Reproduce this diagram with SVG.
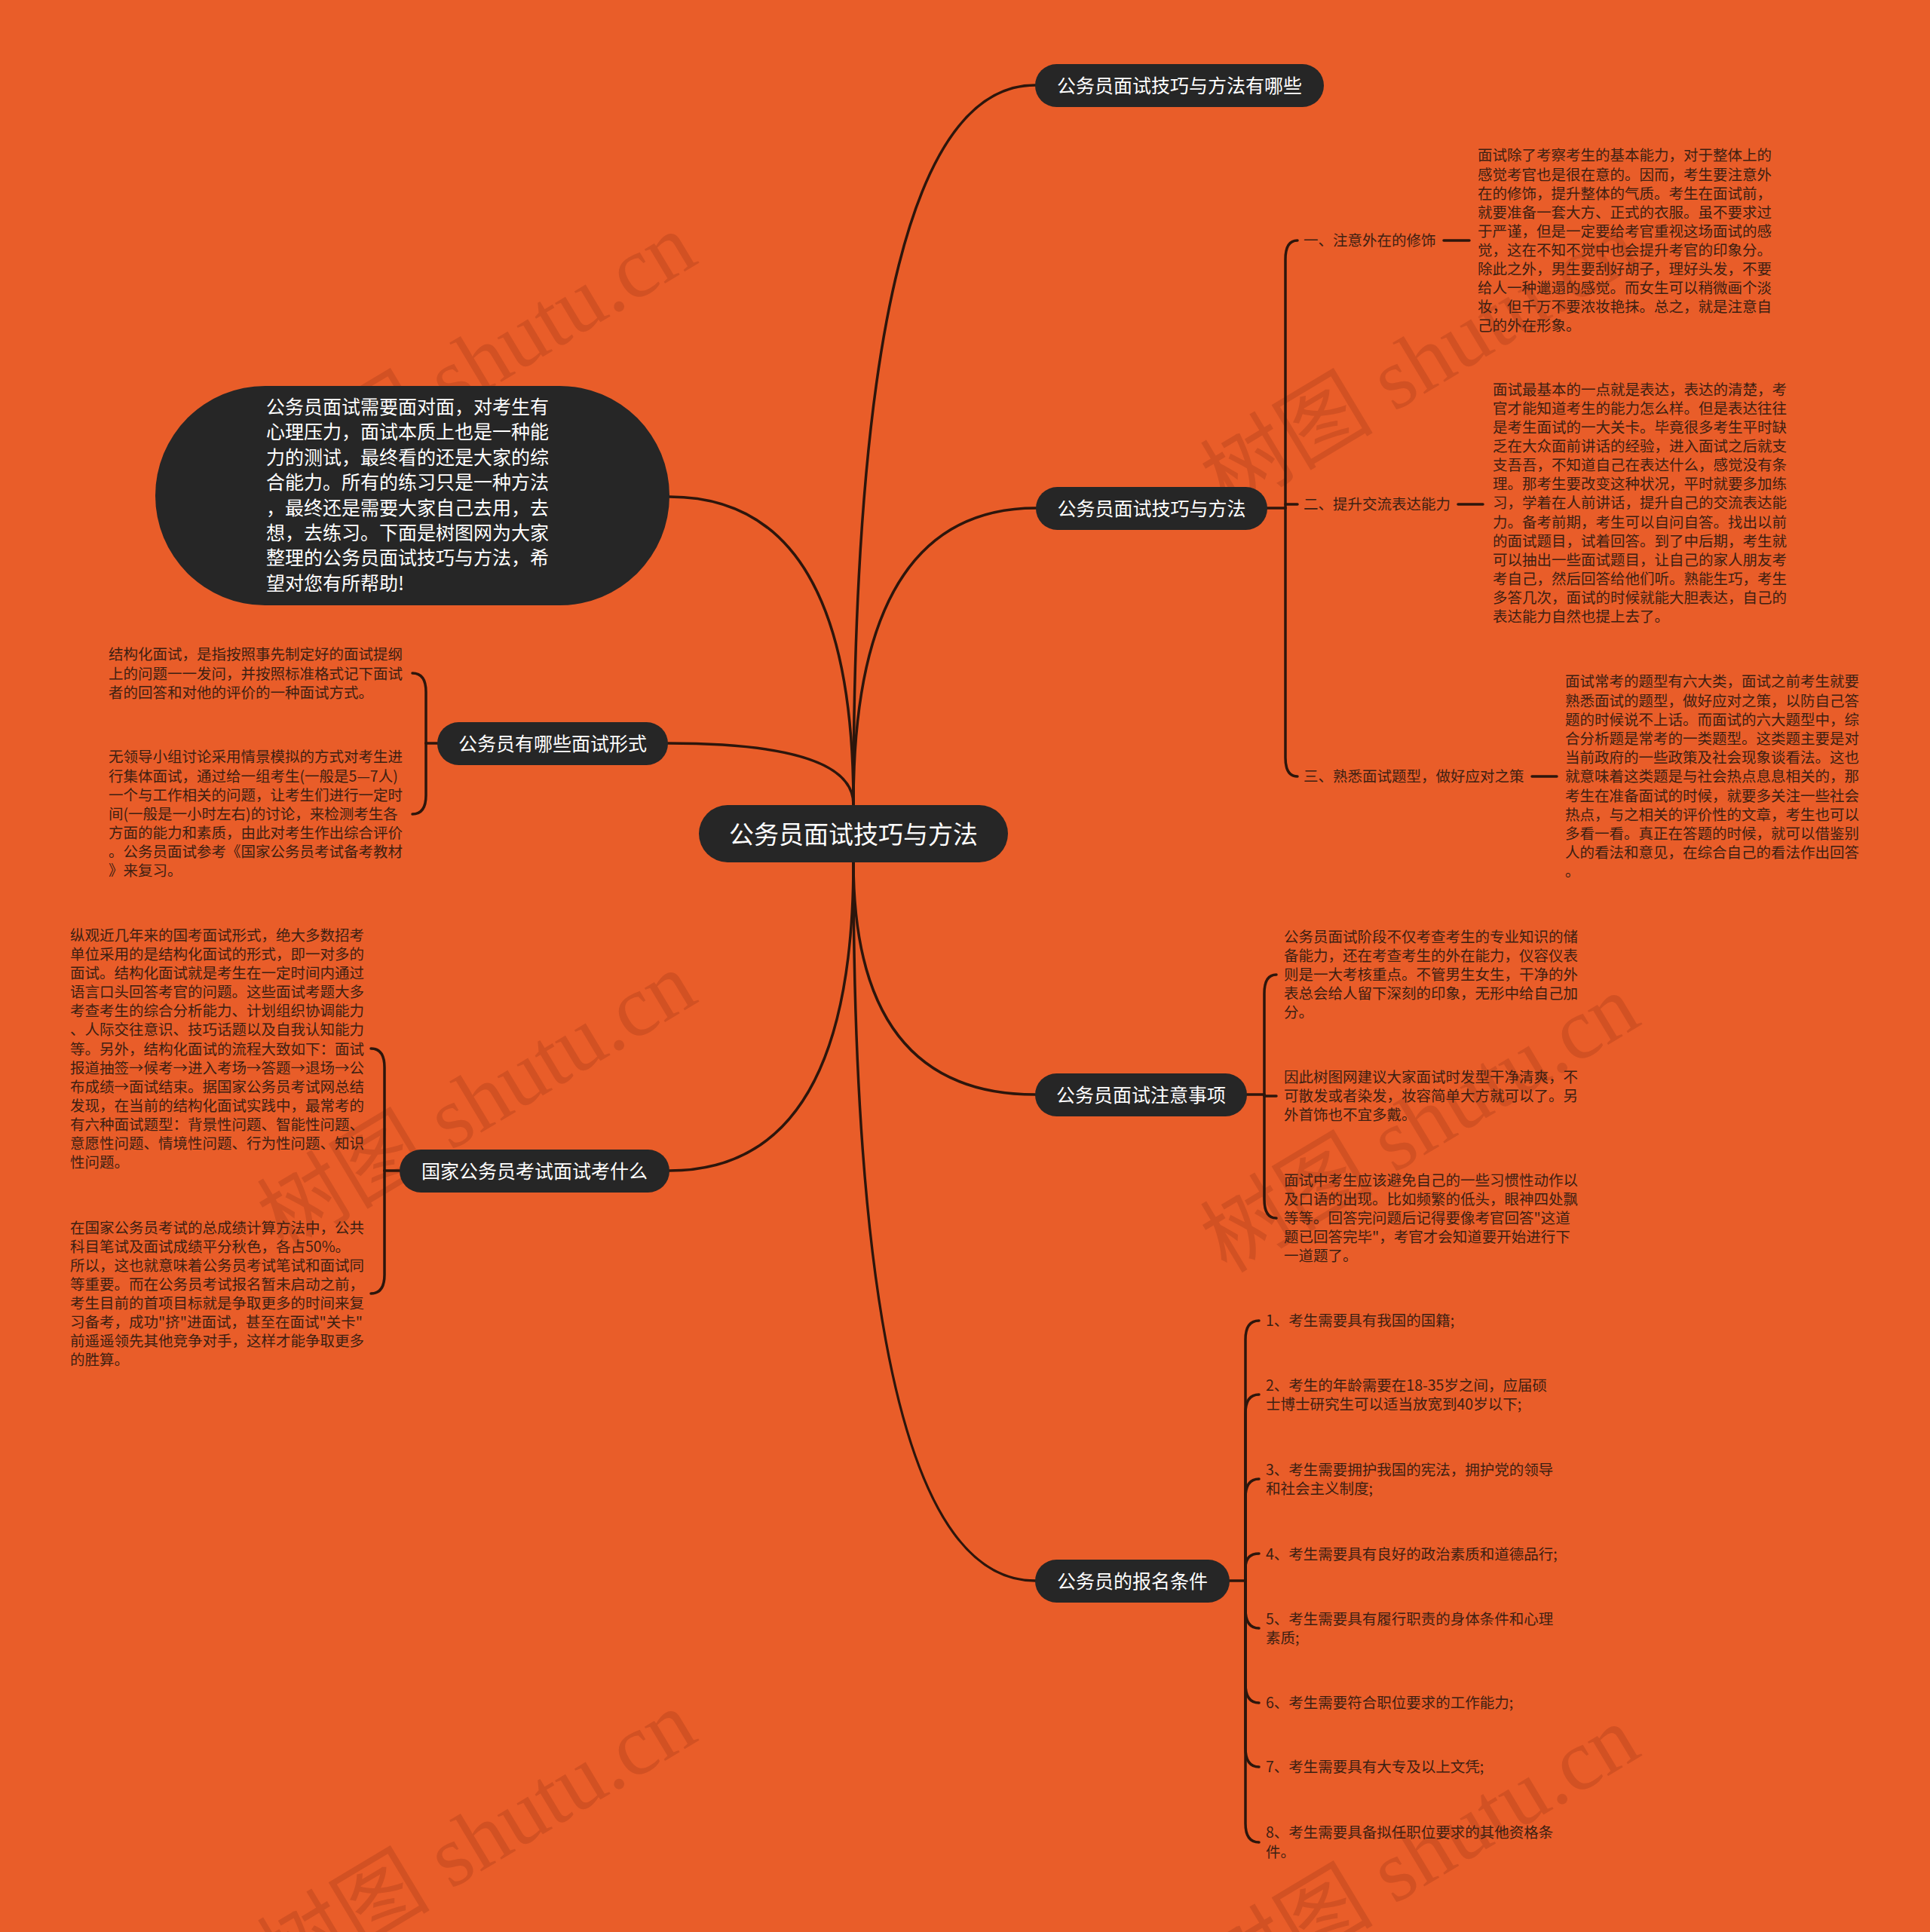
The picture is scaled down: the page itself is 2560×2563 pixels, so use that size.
<svg xmlns="http://www.w3.org/2000/svg" width="2560" height="2563" viewBox="0 0 2560 2563">
<style>
.nodebox{fill:#262626}
.nt{font-family:"Noto Sans CJK SC","Noto Sans",sans-serif;fill:#ffffff;text-anchor:middle}
.it{font-family:"Noto Sans CJK SC","Noto Sans",sans-serif;fill:#ffffff;font-size:25px}
.leaf{font-family:"Noto Sans CJK SC","Noto Sans",sans-serif;font-size:19.5px;fill:#3d2012}
.conn path{fill:none;stroke:#2d160c;stroke-width:3.5;stroke-linecap:round}
.wm{font-family:"Liberation Serif","Noto Sans CJK SC",serif;font-size:115px;fill:#b8431c;opacity:0.45}
</style>
<rect x="0" y="0" width="2560" height="2563" fill="#E95D29"/>
<g id="watermark">
<text class="wm" x="376" y="680" transform="rotate(-31 376 680)">树图 shutu.cn</text>
<text class="wm" x="1627" y="680" transform="rotate(-31 1627 680)">树图 shutu.cn</text>
<text class="wm" x="376" y="1660" transform="rotate(-31 376 1660)">树图 shutu.cn</text>
<text class="wm" x="1627" y="1690" transform="rotate(-31 1627 1690)">树图 shutu.cn</text>
<text class="wm" x="376" y="2640" transform="rotate(-31 376 2640)">树图 shutu.cn</text>
<text class="wm" x="1627" y="2660" transform="rotate(-31 1627 2660)">树图 shutu.cn</text>
</g>
<g id="connectors" class="conn">
<path d="M1132,1067 Q1132,113 1373,113"/>
<path d="M1132,1067 Q1132,674 1374,674"/>
<path d="M1132,1067 Q1132,659 888,659"/>
<path d="M1132,1067 Q1132,986 886,986"/>
<path d="M1132,1143 Q1132,1553 888,1553"/>
<path d="M1132,1143 Q1132,1452 1373,1452"/>
<path d="M1132,1143 Q1132,2097 1373,2097"/>
<!-- techniques bracket -->
<path d="M1680,674 H1705"/>
<path d="M1705,674 V344 Q1705,319 1721,319"/>
<path d="M1705,674 V1005 Q1705,1030 1721,1030"/>
<path d="M1705,669 H1721"/>
<path d="M1915,319 H1949"/>
<path d="M1934,669 H1967"/>
<path d="M2032,1030 H2065"/>
<!-- notes bracket -->
<path d="M1654,1452 H1677"/>
<path d="M1677,1452 V1318 Q1677,1293 1693,1293"/>
<path d="M1677,1452 V1591 Q1677,1616 1693,1616"/>
<path d="M1677,1454 H1693"/>
<!-- conditions bracket -->
<path d="M1631,2097 H1652"/>
<path d="M1652,2097 V1777 Q1652,1752 1670,1752"/>
<path d="M1652,2097 V1875 Q1652,1850 1670,1850"/>
<path d="M1652,2097 V1987 Q1652,1962 1670,1962"/>
<path d="M1652,2097 V2080 Q1652,2061 1670,2061"/>
<path d="M1652,2097 V2135 Q1652,2160 1670,2160"/>
<path d="M1652,2097 V2234 Q1652,2259 1670,2259"/>
<path d="M1652,2097 V2319 Q1652,2344 1670,2344"/>
<path d="M1652,2097 V2419 Q1652,2444 1670,2444"/>
<!-- forms bracket -->
<path d="M580,986 H565"/>
<path d="M565,986 V918 Q565,893 547,893"/>
<path d="M565,986 V1055 Q565,1080 547,1080"/>
<!-- exam bracket -->
<path d="M530,1553 H510"/>
<path d="M510,1553 V1416 Q510,1391 492,1391"/>
<path d="M510,1553 V1691 Q510,1716 492,1716"/>
</g>
<g id="center">
<rect class="nodebox" x="927" y="1068" width="410" height="76" rx="38"/>
<text class="nt" x="1132" y="1118.5" font-size="33">公务员面试技巧与方法</text>
</g>
<g id="intro">
<rect class="nodebox" x="206" y="512" width="682" height="291" rx="145.5"/>
<text class="it">
<tspan x="353" y="549">公务员面试需要面对面，对考生有</tspan>
<tspan x="353" y="582.4">心理压力，面试本质上也是一种能</tspan>
<tspan x="353" y="615.8">力的测试，最终看的还是大家的综</tspan>
<tspan x="353" y="649.2">合能力。所有的练习只是一种方法</tspan>
<tspan x="353" y="682.6">，最终还是需要大家自己去用，去</tspan>
<tspan x="353" y="716">想，去练习。下面是树图网为大家</tspan>
<tspan x="353" y="749.4">整理的公务员面试技巧与方法，希</tspan>
<tspan x="353" y="782.8">望对您有所帮助!</tspan>
</text>
</g>
<g id="n-which">
<rect class="nodebox" x="1373" y="85" width="383" height="57" rx="28.5"/>
<text class="nt" x="1564.5" y="123" font-size="25">公务员面试技巧与方法有哪些</text>
</g>
<g id="n-tech">
<rect class="nodebox" x="1374" y="646" width="307" height="57" rx="28.5"/>
<text class="nt" x="1527.5" y="684" font-size="25">公务员面试技巧与方法</text>
</g>
<g id="n-notes">
<rect class="nodebox" x="1373" y="1424" width="281" height="57" rx="28.5"/>
<text class="nt" x="1513.5" y="1462" font-size="25">公务员面试注意事项</text>
</g>
<g id="n-cond">
<rect class="nodebox" x="1373" y="2069" width="258" height="57" rx="28.5"/>
<text class="nt" x="1502" y="2107" font-size="25">公务员的报名条件</text>
</g>
<g id="n-forms">
<rect class="nodebox" x="580" y="958" width="306" height="57" rx="28.5"/>
<text class="nt" x="733" y="996" font-size="25">公务员有哪些面试形式</text>
</g>
<g id="n-exam">
<rect class="nodebox" x="530" y="1525" width="358" height="57" rx="28.5"/>
<text class="nt" x="709" y="1563" font-size="25">国家公务员考试面试考什么</text>
</g>
<g id="t1-label"><text class="leaf" x="1729" y="326.4">一、注意外在的修饰</text></g>
<g id="t2-label"><text class="leaf" x="1729" y="676.4">二、提升交流表达能力</text></g>
<g id="t3-label"><text class="leaf" x="1729" y="1037.4">三、熟悉面试题型，做好应对之策</text></g>
<g id="t1-leaf">
<text class="leaf">
<tspan x="1960" y="213.4">面试除了考察考生的基本能力，对于整体上的</tspan>
<tspan x="1960" y="238.5">感觉考官也是很在意的。因而，考生要注意外</tspan>
<tspan x="1960" y="263.5">在的修饰，提升整体的气质。考生在面试前，</tspan>
<tspan x="1960" y="288.6">就要准备一套大方、正式的衣服。虽不要求过</tspan>
<tspan x="1960" y="313.7">于严谨，但是一定要给考官重视这场面试的感</tspan>
<tspan x="1960" y="338.8">觉，这在不知不觉中也会提升考官的印象分。</tspan>
<tspan x="1960" y="363.8">除此之外，男生要刮好胡子，理好头发，不要</tspan>
<tspan x="1960" y="388.9">给人一种邋遢的感觉。而女生可以稍微画个淡</tspan>
<tspan x="1960" y="414">妆，但千万不要浓妆艳抹。总之，就是注意自</tspan>
<tspan x="1960" y="439">己的外在形象。</tspan>
</text>
</g>
<g id="t2-leaf">
<text class="leaf">
<tspan x="1980" y="524">面试最基本的一点就是表达，表达的清楚，考</tspan>
<tspan x="1980" y="549.1">官才能知道考生的能力怎么样。但是表达往往</tspan>
<tspan x="1980" y="574.1">是考生面试的一大关卡。毕竟很多考生平时缺</tspan>
<tspan x="1980" y="599.2">乏在大众面前讲话的经验，进入面试之后就支</tspan>
<tspan x="1980" y="624.3">支吾吾，不知道自己在表达什么，感觉没有条</tspan>
<tspan x="1980" y="649.4">理。那考生要改变这种状况，平时就要多加练</tspan>
<tspan x="1980" y="674.4">习，学着在人前讲话，提升自己的交流表达能</tspan>
<tspan x="1980" y="699.5">力。备考前期，考生可以自问自答。找出以前</tspan>
<tspan x="1980" y="724.6">的面试题目，试着回答。到了中后期，考生就</tspan>
<tspan x="1980" y="749.6">可以抽出一些面试题目，让自己的家人朋友考</tspan>
<tspan x="1980" y="774.7">考自己，然后回答给他们听。熟能生巧，考生</tspan>
<tspan x="1980" y="799.8">多答几次，面试的时候就能大胆表达，自己的</tspan>
<tspan x="1980" y="824.8">表达能力自然也提上去了。</tspan>
</text>
</g>
<g id="t3-leaf">
<text class="leaf">
<tspan x="2076" y="911.4">面试常考的题型有六大类，面试之前考生就要</tspan>
<tspan x="2076" y="936.6">熟悉面试的题型，做好应对之策，以防自己答</tspan>
<tspan x="2076" y="961.8">题的时候说不上话。而面试的六大题型中，综</tspan>
<tspan x="2076" y="987">合分析题是常考的一类题型。这类题主要是对</tspan>
<tspan x="2076" y="1012.2">当前政府的一些政策及社会现象谈看法。这也</tspan>
<tspan x="2076" y="1037.4">就意味着这类题是与社会热点息息相关的，那</tspan>
<tspan x="2076" y="1062.6">考生在准备面试的时候，就要多关注一些社会</tspan>
<tspan x="2076" y="1087.8">热点，与之相关的评价性的文章，考生也可以</tspan>
<tspan x="2076" y="1113">多看一看。真正在答题的时候，就可以借鉴别</tspan>
<tspan x="2076" y="1138.2">人的看法和意见，在综合自己的看法作出回答</tspan>
<tspan x="2076" y="1163.4">。</tspan>
</text>
</g>
<g id="notes-1">
<text class="leaf">
<tspan x="1703" y="1250.4">公务员面试阶段不仅考查考生的专业知识的储</tspan>
<tspan x="1703" y="1275.4">备能力，还在考查考生的外在能力，仪容仪表</tspan>
<tspan x="1703" y="1300.4">则是一大考核重点。不管男生女生，干净的外</tspan>
<tspan x="1703" y="1325.4">表总会给人留下深刻的印象，无形中给自己加</tspan>
<tspan x="1703" y="1350.4">分。</tspan>
</text>
</g>
<g id="notes-2">
<text class="leaf">
<tspan x="1703" y="1436.4">因此树图网建议大家面试时发型干净清爽，不</tspan>
<tspan x="1703" y="1461.4">可散发或者染发，妆容简单大方就可以了。另</tspan>
<tspan x="1703" y="1486.4">外首饰也不宜多戴。</tspan>
</text>
</g>
<g id="notes-3">
<text class="leaf">
<tspan x="1703" y="1573.4">面试中考生应该避免自己的一些习惯性动作以</tspan>
<tspan x="1703" y="1598.4">及口语的出现。比如频繁的低头，眼神四处飘</tspan>
<tspan x="1703" y="1623.4">等等。回答完问题后记得要像考官回答"这道</tspan>
<tspan x="1703" y="1648.4">题已回答完毕"，考官才会知道要开始进行下</tspan>
<tspan x="1703" y="1673.4">一道题了。</tspan>
</text>
</g>
<g id="cond-1"><text class="leaf" x="1679" y="1759.4">1、考生需要具有我国的国籍;</text></g>
<g id="cond-2"><text class="leaf"><tspan x="1679" y="1844.8">2、考生的年龄需要在18-35岁之间，应届硕</tspan><tspan x="1679" y="1870.4">士博士研究生可以适当放宽到40岁以下;</tspan></text></g>
<g id="cond-3"><text class="leaf"><tspan x="1679" y="1957.4">3、考生需要拥护我国的宪法，拥护党的领导</tspan><tspan x="1679" y="1982.2">和社会主义制度;</tspan></text></g>
<g id="cond-4"><text class="leaf" x="1679" y="2068.8">4、考生需要具有良好的政治素质和道德品行;</text></g>
<g id="cond-5"><text class="leaf"><tspan x="1679" y="2155.4">5、考生需要具有履行职责的身体条件和心理</tspan><tspan x="1679" y="2180">素质;</tspan></text></g>
<g id="cond-6"><text class="leaf" x="1679" y="2266.4">6、考生需要符合职位要求的工作能力;</text></g>
<g id="cond-7"><text class="leaf" x="1679" y="2351.4">7、考生需要具有大专及以上文凭;</text></g>
<g id="cond-8"><text class="leaf"><tspan x="1679" y="2438.2">8、考生需要具备拟任职位要求的其他资格条</tspan><tspan x="1679" y="2464.4">件。</tspan></text></g>
<g id="forms-1">
<text class="leaf">
<tspan x="144" y="875.4">结构化面试，是指按照事先制定好的面试提纲</tspan>
<tspan x="144" y="900.7">上的问题一一发问，并按照标准格式记下面试</tspan>
<tspan x="144" y="926">者的回答和对他的评价的一种面试方式。</tspan>
</text>
</g>
<g id="forms-2">
<text class="leaf">
<tspan x="144" y="1011.4">无领导小组讨论采用情景模拟的方式对考生进</tspan>
<tspan x="144" y="1036.5">行集体面试，通过给一组考生(一般是5—7人)</tspan>
<tspan x="144" y="1061.6">一个与工作相关的问题，让考生们进行一定时</tspan>
<tspan x="144" y="1086.7">间(一般是一小时左右)的讨论，来检测考生各</tspan>
<tspan x="144" y="1111.8">方面的能力和素质，由此对考生作出综合评价</tspan>
<tspan x="144" y="1136.9">。公务员面试参考《国家公务员考试备考教材</tspan>
<tspan x="144" y="1162">》来复习。</tspan>
</text>
</g>
<g id="exam-1">
<text class="leaf">
<tspan x="93" y="1248.1">纵观近几年来的国考面试形式，绝大多数招考</tspan>
<tspan x="93" y="1273.2">单位采用的是结构化面试的形式，即一对多的</tspan>
<tspan x="93" y="1298.2">面试。结构化面试就是考生在一定时间内通过</tspan>
<tspan x="93" y="1323.3">语言口头回答考官的问题。这些面试考题大多</tspan>
<tspan x="93" y="1348.4">考查考生的综合分析能力、计划组织协调能力</tspan>
<tspan x="93" y="1373.4">、人际交往意识、技巧话题以及自我认知能力</tspan>
<tspan x="93" y="1398.5">等。另外，结构化面试的流程大致如下：面试</tspan>
<tspan x="93" y="1423.6">报道抽签→候考→进入考场→答题→退场→公</tspan>
<tspan x="93" y="1448.7">布成绩→面试结束。据国家公务员考试网总结</tspan>
<tspan x="93" y="1473.7">发现，在当前的结构化面试实践中，最常考的</tspan>
<tspan x="93" y="1498.8">有六种面试题型：背景性问题、智能性问题、</tspan>
<tspan x="93" y="1523.9">意愿性问题、情境性问题、行为性问题、知识</tspan>
<tspan x="93" y="1548.9">性问题。</tspan>
</text>
</g>
<g id="exam-2">
<text class="leaf">
<tspan x="93" y="1635.6">在国家公务员考试的总成绩计算方法中，公共</tspan>
<tspan x="93" y="1660.7">科目笔试及面试成绩平分秋色，各占50%。</tspan>
<tspan x="93" y="1685.8">所以，这也就意味着公务员考试笔试和面试同</tspan>
<tspan x="93" y="1710.8">等重要。而在公务员考试报名暂未启动之前，</tspan>
<tspan x="93" y="1735.9">考生目前的首项目标就是争取更多的时间来复</tspan>
<tspan x="93" y="1761">习备考，成功"挤"进面试，甚至在面试"关卡"</tspan>
<tspan x="93" y="1786">前遥遥领先其他竞争对手，这样才能争取更多</tspan>
<tspan x="93" y="1811.1">的胜算。</tspan>
</text>
</g>
</svg>
